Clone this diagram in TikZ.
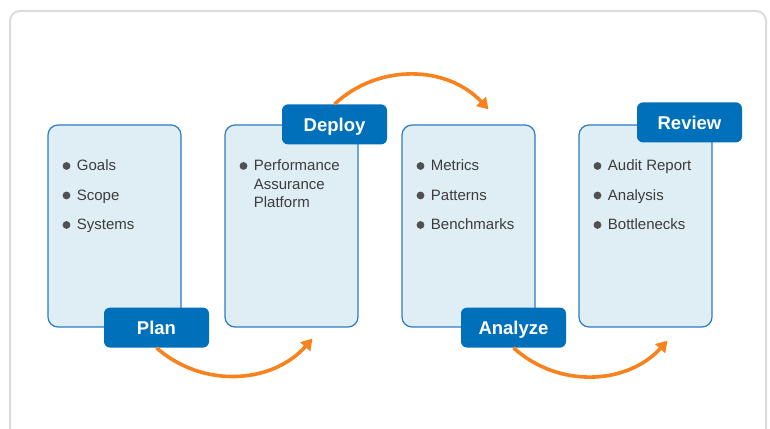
\documentclass[tikz,border=0pt]{standalone}
\usepackage{fontspec}
\setmainfont{Liberation Sans}
\usepackage{tikz}
\usetikzlibrary{arrows.meta}
\definecolor{framegray}{HTML}{DCDCDC}
\definecolor{boxfill}{HTML}{DFEEF5}
\definecolor{boxline}{HTML}{2B7CC1}
\definecolor{tagblue}{HTML}{0070BA}
\definecolor{arroworange}{HTML}{F7821E}
\definecolor{textgray}{HTML}{3C3C3C}
\definecolor{dotgray}{HTML}{505050}
\newcommand{\blt}{\tikz[baseline=-5pt]\fill[dotgray] (0,0) circle (3.9pt);\hspace{6.5pt}}

\begin{document}
\begin{tikzpicture}[x=1pt,y=1pt,node distance=177pt,
    step box/.style={draw=boxline, line width=1.2pt, fill=boxfill, rounded corners=10pt, minimum width=133pt, minimum height=202pt},
    tag/.style={fill=tagblue, text=white, rounded corners=6pt, minimum width=105pt, minimum height=40pt, text height=13.3pt, text depth=0pt, font=\fontsize{18.5}{22}\selectfont\bfseries},
    items/.style={anchor=north west, inner sep=0pt, align=left, text=textgray, font=\fontsize{15}{18.5}\selectfont},
    flow/.style={draw=arroworange, line width=3.6pt, -{Triangle[length=11pt,width=13pt]}}]
    \clip (0,0) rectangle (770,428);
    \draw[framegray, line width=2pt, rounded corners=10pt] (10,417) rectangle (766,-12);

    \node[step box] (s1) at (114.5,202) {};
    \node[step box,right of=s1] (s2) {};
    \node[step box,right of=s2] (s3) {};
    \node[step box,right of=s3] (s4) {};

    \node[items] at ([shift={(15,-35.5)}]s1.north west) {\blt Goals\\[11pt]\blt Scope\\[11pt]\blt Systems};
    \node[items] at ([shift={(15,-35.5)}]s2.north west) {\blt Performance\\\hspace*{14.3pt}Assurance\\\hspace*{14.3pt}Platform};
    \node[items] at ([shift={(15,-35.5)}]s3.north west) {\blt Metrics\\[11pt]\blt Patterns\\[11pt]\blt Benchmarks};
    \node[items] at ([shift={(15,-35.5)}]s4.north west) {\blt Audit Report\\[11pt]\blt Analysis\\[11pt]\blt Bottlenecks};

    \node[tag] (plan) at ([xshift=42pt]s1.south) {Plan};
    \node[tag] (deploy) at ([xshift=43pt]s2.north) {Deploy};
    \node[tag] (analyze) at ([xshift=45pt]s3.south) {Analyze};
    \node[tag] (review) at ([xshift=44pt,yshift=2pt]s4.north) {Review};

    \coordinate[xshift=21pt,yshift=-11pt] (t1) at (s2.south);
    \coordinate[xshift=20pt,yshift=15pt] (t2) at (s3.north);
    \coordinate[xshift=22pt,yshift=-13pt] (t3) at (s4.south);

    \draw[flow] (plan.south) to[bend right=45] (t1);
    \draw[flow] (deploy.north) to[bend left=45] (t2);
    \draw[flow] (analyze.south) to[bend right=45] (t3);
\end{tikzpicture}
\end{document}
